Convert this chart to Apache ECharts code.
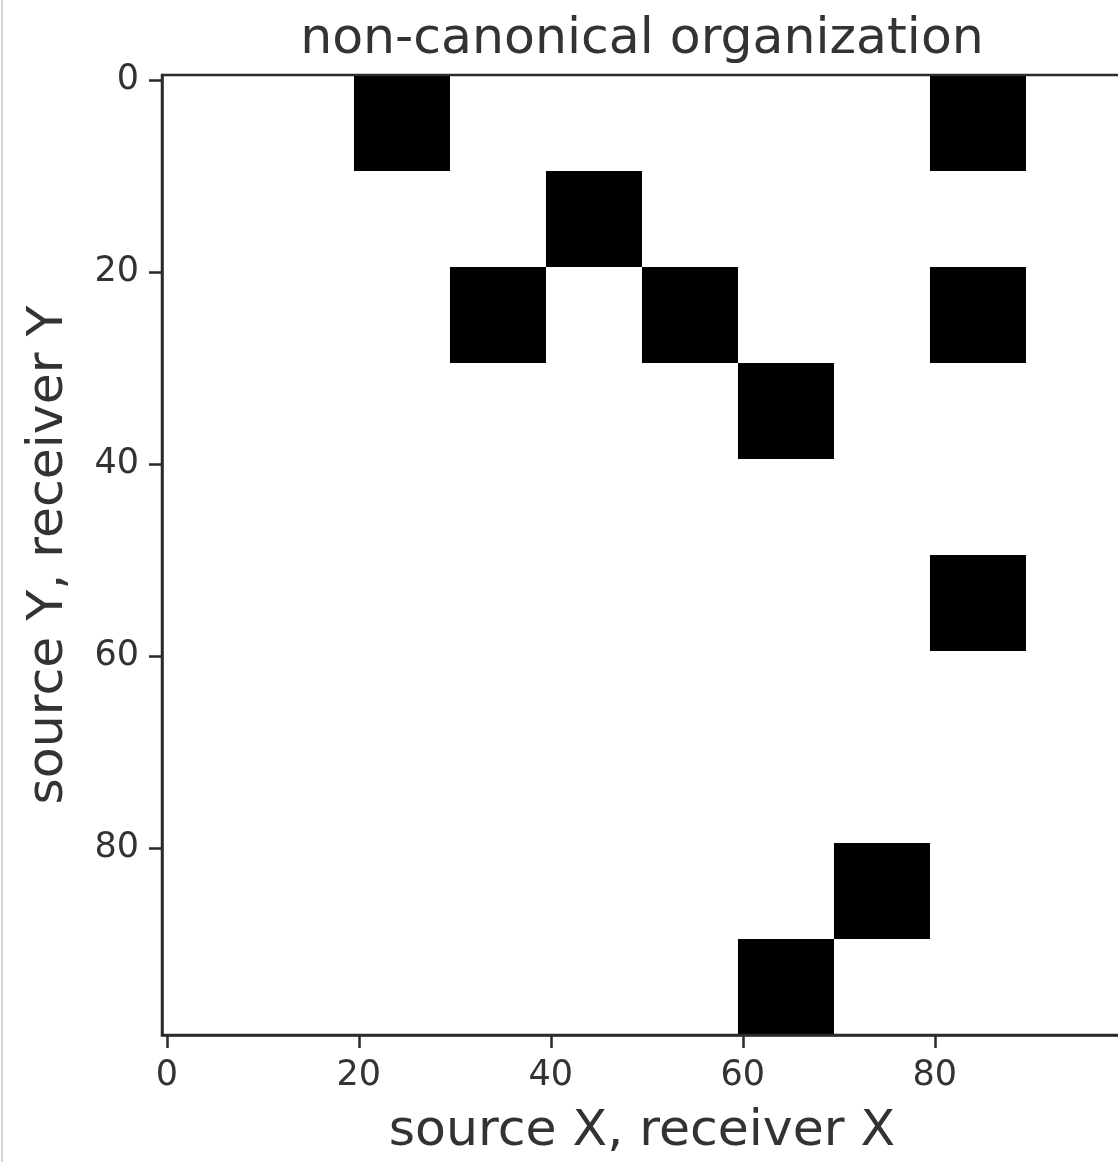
<!DOCTYPE html>
<html>
<head>
<meta charset="utf-8">
<title>non-canonical organization</title>
<script src="https://cdn.jsdelivr.net/npm/echarts@6/dist/echarts.min.js"></script>
<style>
  html, body { margin: 0; padding: 0; background: #fff; }
  #chart { width: 1118px; height: 1162px; }
</style>
</head>
<body>
<div id="chart"></div>
<script>
// Grid size (pixels per side) and the blocks of ones in the 100x100 image
const gridSize = 100;
const blockSize = 10;
// top-left corner (column, row) of every filled block
const blockCols = [20, 80, 40, 30, 50, 80, 60, 80, 70, 60];
const blockRows = [0, 0, 10, 20, 20, 20, 30, 50, 80, 90];
const tickValues = [0, 20, 40, 60, 80];

const categories = [];
for (let i = 0; i < gridSize; i++) categories.push(String(i));

const blocks = blockCols.map((c, i) => [c, blockRows[i]]);

const FONT = 'DejaVu Sans';
const AXIS_COLOR = '#2a2a2a';
const TEXT_COLOR = '#333';
const showTick = (idx) => tickValues.indexOf(idx) !== -1;

// One filled rectangle per block, spanning blockSize pixel bands on each axis
function renderBlock(params, api) {
  const c = api.value(0);
  const r = api.value(1);
  const p0 = api.coord([c, r]);
  const p1 = api.coord([c + blockSize - 1, r + blockSize - 1]);
  const band = api.size([1, 1]);
  return {
    type: 'rect',
    shape: {
      x: p0[0] - band[0] / 2,
      y: p0[1] - band[1] / 2,
      width: p1[0] - p0[0] + band[0],
      height: p1[1] - p0[1] + band[1]
    },
    style: { fill: '#000' }
  };
}

const chart = echarts.init(document.getElementById('chart'), null, { renderer: 'canvas' });
chart.setOption({
  backgroundColor: '#fff',
  animation: false,
  title: {
    text: 'non-canonical organization',
    left: 642,
    top: 14,
    padding: 0,
    textAlign: 'center',
    textStyle: { fontFamily: FONT, fontSize: 50.5, fontWeight: 'normal', color: TEXT_COLOR }
  },
  grid: {
    left: 162,
    top: 75,
    width: 960,
    height: 960,
    outerBoundsMode: 'none',
    containLabel: false,
    show: true,
    z: 10,
    backgroundColor: 'transparent',
    borderColor: AXIS_COLOR,
    borderWidth: 2.5
  },
  xAxis: {
    type: 'category',
    data: categories,
    boundaryGap: true,
    name: 'source X, receiver X',
    nameLocation: 'middle',
    nameGap: 71,
    nameTextStyle: { fontFamily: FONT, fontSize: 50.5, color: TEXT_COLOR },
    axisLine: { show: true, lineStyle: { color: AXIS_COLOR, width: 2.5 } },
    axisTick: {
      show: true, alignWithLabel: true, length: 13,
      interval: (idx) => showTick(idx),
      lineStyle: { color: AXIS_COLOR, width: 2.5 }
    },
    axisLabel: {
      interval: (idx) => showTick(idx),
      margin: 23,
      fontFamily: FONT, fontSize: 35, color: TEXT_COLOR
    },
    splitLine: { show: false }
  },
  yAxis: {
    type: 'category',
    data: categories,
    inverse: true,
    boundaryGap: true,
    name: 'source Y, receiver Y',
    nameLocation: 'middle',
    nameGap: 88,
    nameTextStyle: { fontFamily: FONT, fontSize: 50.5, color: TEXT_COLOR },
    axisLine: { show: true, lineStyle: { color: AXIS_COLOR, width: 2.5 } },
    axisTick: {
      show: true, alignWithLabel: true, length: 13,
      interval: (idx) => showTick(idx),
      lineStyle: { color: AXIS_COLOR, width: 2.5 }
    },
    axisLabel: {
      interval: (idx) => showTick(idx),
      margin: 23,
      fontFamily: FONT, fontSize: 35, color: TEXT_COLOR
    },
    splitLine: { show: false }
  },
  series: [{
    type: 'custom',
    data: blocks,
    renderItem: renderBlock,
    encode: { x: 0, y: 1 },
    silent: true
  }],
  graphic: [{
    type: 'line',
    shape: { x1: 2, y1: 0, x2: 2, y2: 1162 },
    style: { stroke: '#d4d4d4', lineWidth: 2 },
    silent: true
  }]
});
</script>
</body>
</html>
